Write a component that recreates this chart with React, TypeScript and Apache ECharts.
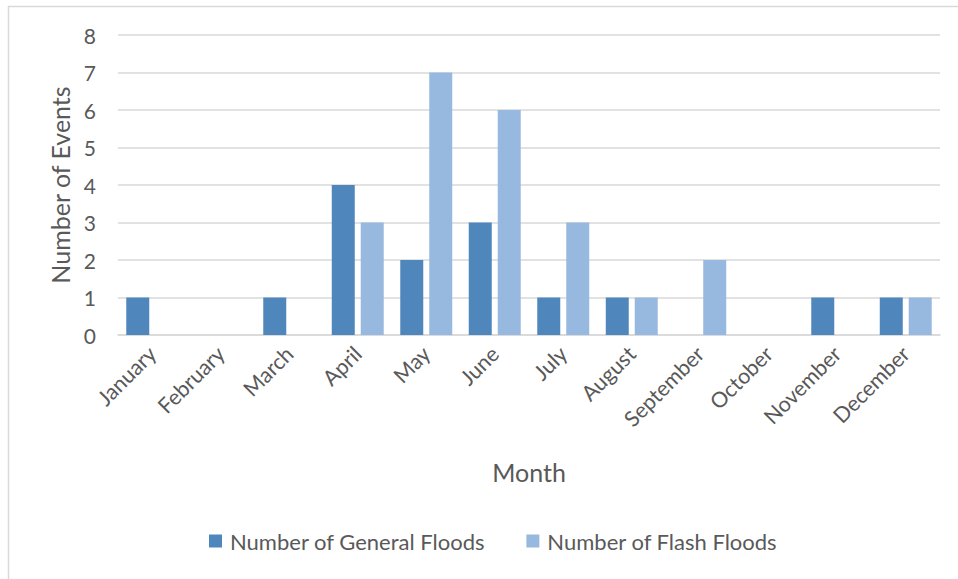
import React, { useEffect, useRef } from "react";
import * as echarts from "echarts";

const months = ["January", "February", "March", "April", "May", "June", "July", "August", "September", "October", "November", "December"];
const generalFloods = [1, 0, 1, 4, 2, 3, 1, 1, 0, 0, 1, 1];
const flashFloods = [0, 0, 0, 3, 7, 6, 3, 1, 2, 0, 0, 1];
const seriesNames = ["Number of General Floods", "Number of Flash Floods"];
const yAxisTitle = "Number of Events";
const xAxisTitle = "Month";

const FONT = "Lato, 'Noto Sans', sans-serif";
const TEXT = "#595959";

export default function App() {
  const ref = useRef<HTMLDivElement>(null);
  useEffect(() => {
    document.body.style.margin = "0";
    const chart = echarts.init(ref.current!, undefined, { renderer: "svg" });
    chart.setOption({
      animation: false,
      backgroundColor: "#ffffff",
      textStyle: { fontFamily: FONT, color: TEXT },
      graphic: [
        { type: "line", shape: { x1: 8.5, y1: 6, x2: 8.5, y2: 579 }, style: { stroke: "#d9d9d9", lineWidth: 1.5 } },
        { type: "line", shape: { x1: 8, y1: 6.5, x2: 958, y2: 6.5 }, style: { stroke: "#d9d9d9", lineWidth: 1.5 } },
      ],
      grid: { left: 118, right: 18, top: 35, bottom: 244, containLabel: false },
      legend: {
        bottom: 22,
        left: 204,
        itemWidth: 13,
        itemHeight: 13,
        itemGap: 41,
        icon: "rect",
        textStyle: { fontFamily: FONT, fontSize: 22, color: TEXT, padding: [0, 0, 0, 3] },
        data: seriesNames,
      },
      xAxis: {
        type: "category",
        data: months,
        name: xAxisTitle,
        nameLocation: "middle",
        nameGap: 124,
        nameTextStyle: { fontFamily: FONT, fontSize: 25, color: TEXT },
        axisLine: { lineStyle: { color: "#d9d9d9", width: 1.5 } },
        axisTick: { show: false },
        axisLabel: { rotate: 45, margin: 15, fontFamily: FONT, fontSize: 21.5, color: TEXT, interval: 0 },
      },
      yAxis: {
        type: "value",
        min: 0,
        max: 8,
        interval: 1,
        name: yAxisTitle,
        nameLocation: "middle",
        nameGap: 46,
        nameTextStyle: { fontFamily: FONT, fontSize: 25, color: TEXT },
        axisLine: { show: false },
        axisTick: { show: false },
        axisLabel: { margin: 22, fontFamily: FONT, fontSize: 21, color: TEXT },
        splitLine: { lineStyle: { color: "#d9d9d9", width: 1.5 } },
      },
      series: [
        {
          name: seriesNames[0],
          type: "bar",
          data: generalFloods,
          barWidth: 23,
          barGap: "26%",
          itemStyle: { color: "#4f87bc" },
        },
        {
          name: seriesNames[1],
          type: "bar",
          data: flashFloods,
          barWidth: 23,
          itemStyle: { color: "#98b9df" },
        },
      ],
    });
    return () => chart.dispose();
  }, []);
  return <div ref={ref} style={{ width: 958, height: 579 }} />;
}
